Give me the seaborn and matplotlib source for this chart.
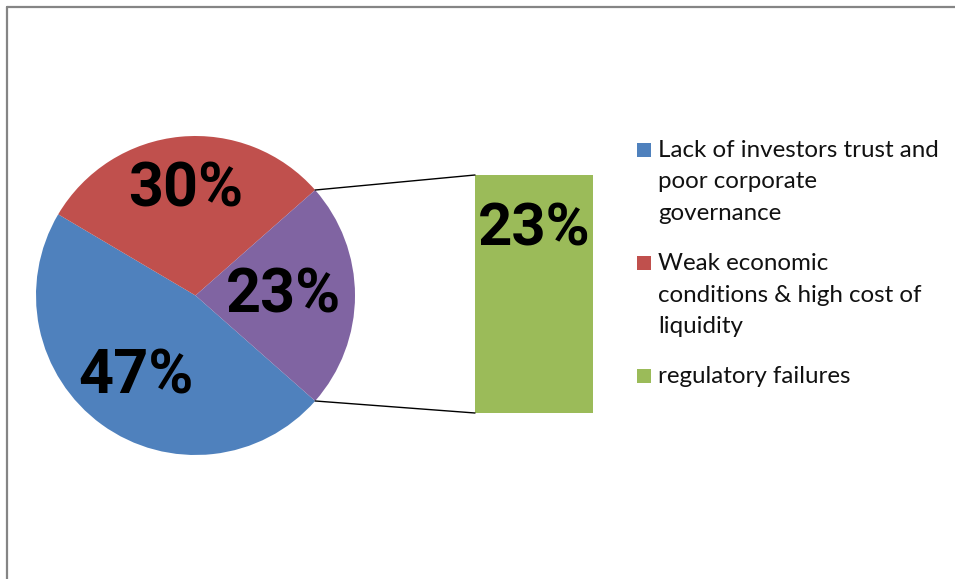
import matplotlib
matplotlib.use("Agg")
import matplotlib.pyplot as plt
from matplotlib.patches import Rectangle, ConnectionPatch
from matplotlib.lines import Line2D
import numpy as np
import pandas as pd
import seaborn as sns

# ---- data ----
categories = ["Lack of investors trust and poor corporate governance",
              "Weak economic conditions & high cost of liquidity",
              "regulatory failures"]
values = [47, 30, 23]
pie_labels = ["47%", "30%", "23%"]
bar_category = ["regulatory failures"]
bar_values = [23]
bar_labels = ["23%"]
legend_lines = [["Lack of investors trust and", "poor corporate", "governance"],
                ["Weak economic", "conditions & high cost of", "liquidity"],
                ["regulatory failures"]]

pie_colors = ["#4F81BD", "#C0504D", "#8064A2"]
bar_color = "#9BBB59"
legend_colors = ["#4F81BD", "#C0504D", "#9BBB59"]

sns.set_theme(style="white")
plt.rcParams['font.family'] = ["Lato", "DejaVu Sans"]
label_family = ["Roboto", "DejaVu Sans"]

W, H = 955, 579
fig = plt.figure(figsize=(W / 100, H / 100), dpi=100)
fig.patch.set_facecolor("white")

def fx(px):
    return px / W

def fy(py):
    return 1 - py / H

# pie axes
cx, cy, r = 195.5, 295.5, 159.5
ax = fig.add_axes([fx(cx - r), fy(cy + r), 2 * r / W, 2 * r / H])
start = -values[2] / 100 * 360 / 2
wedges, _ = ax.pie(values, colors=pie_colors, counterclock=False,
                   startangle=start, radius=1,
                   wedgeprops=dict(linewidth=0))
ax.set_xlim(-1, 1)
ax.set_ylim(-1, 1)
ax.set_aspect("auto")
ax.axis("off")

label_dist = [0.63, 0.665, 0.55]
for w, lab, d in zip(wedges, pie_labels, label_dist):
    mid = np.deg2rad((w.theta1 + w.theta2) / 2)
    ax.text(d * np.cos(mid), d * np.sin(mid), lab, ha="center", va="center",
            fontsize=44, fontweight="bold", family=label_family, color="black")

# bar axes
bx0, bx1, by0, by1 = 475, 593, 175, 413
ax2 = fig.add_axes([fx(bx0), fy(by1), (bx1 - bx0) / W, (by1 - by0) / H])
df = pd.DataFrame({"cat": bar_category, "val": bar_values})
sns.barplot(data=df, x="cat", y="val", color=bar_color, width=1.0,
            saturation=1, ax=ax2, linewidth=0)
ax2.set_xlim(-0.5, 0.5)
ax2.set_ylim(0, bar_values[0])
ax2.axis("off")
ax2.text(0, bar_values[0] * 0.77, bar_labels[0], ha="center", va="center",
         fontsize=43, fontweight="bold", family=label_family, color="black")

# connector lines (top of purple wedge -> top of bar, bottom -> bottom)
w_purple = wedges[2]
top_ang = max(w_purple.theta1, w_purple.theta2)
bot_ang = min(w_purple.theta1, w_purple.theta2)
for ang, yb in [(top_ang, bar_values[0]), (bot_ang, 0)]:
    a = np.deg2rad(ang)
    cp = ConnectionPatch(xyA=(np.cos(a), np.sin(a)), coordsA=ax.transData,
                         xyB=(-0.5, yb), coordsB=ax2.transData,
                         color="black", linewidth=1.0)
    fig.add_artist(cp)

# legend
entry_baselines = [[157, 188.5, 220], [270, 301.5, 333], [383]]
for lines, bls, col in zip(legend_lines, entry_baselines, legend_colors):
    fig.add_artist(Rectangle((fx(637), fy(bls[0])), 14 / W, 14 / H,
                             transform=fig.transFigure, facecolor=col,
                             edgecolor="none"))
    for t, b in zip(lines, bls):
        fig.text(fx(658), fy(b), t, ha="left", va="baseline", fontsize=17.4,
                 color="#111111")

# outer frame (left and top edges)
fig.add_artist(Line2D([fx(7), fx(7)], [0, fy(7)], transform=fig.transFigure,
                      color="#858585", linewidth=1.6))
fig.add_artist(Line2D([fx(7), 1], [fy(7), fy(7)], transform=fig.transFigure,
                      color="#858585", linewidth=1.6))

fig.savefig("out.png", dpi=100)
